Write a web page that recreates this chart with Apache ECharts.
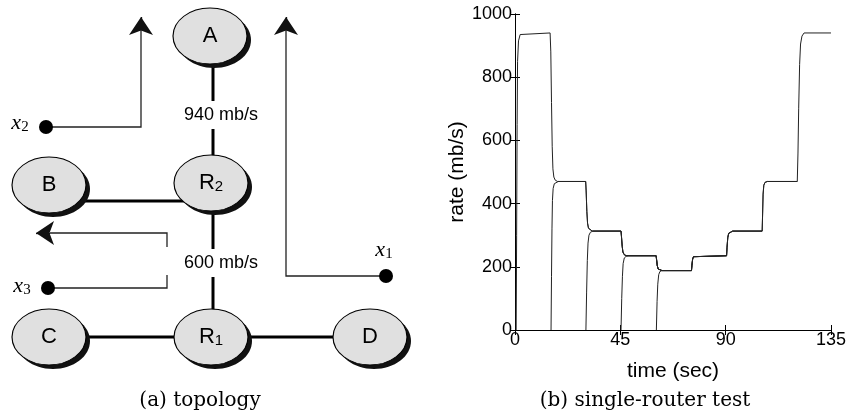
<!DOCTYPE html>
<html><head><meta charset="utf-8">
<script src="https://cdn.jsdelivr.net/npm/echarts@6/dist/echarts.min.js"></script>
<style>html,body{margin:0;padding:0;background:#fff}#c{width:849px;height:417px}</style>
</head><body><div id="c"></div>
<script>
// ================= (b) single-router test : data =================
const xTicks = [0, 45, 90, 135];          // time (sec)
const yTicks = [0, 200, 400, 600, 800, 1000]; // rate (mb/s)
// transitions: [time, rate]
const rise0   = [[0.5,0],[0.7,300],[0.9,650],[1.1,850],[1.5,915],[2.2,935],[3,940]];
const drop15  = [[15.0,940],[15.3,880],[15.6,720],[15.9,580],[16.2,510],[16.6,484],[17.2,474],[18.2,470]];
const rise15  = [[15.4,0],[15.6,170],[15.8,320],[16.0,410],[16.3,448],[16.8,463],[17.6,469],[18.5,470]];
const drop30  = [[30.2,470],[30.4,440],[30.7,375],[31.0,338],[31.4,322],[32.0,316],[33.0,313]];
const rise30  = [[30.3,0],[30.6,120],[30.9,220],[31.2,275],[31.6,300],[32.2,309],[33.2,313]];
const drop45  = [[45.3,313],[45.5,295],[45.8,265],[46.1,247],[46.6,239],[47.5,235]];
const rise45  = [[45.3,0],[45.6,100],[45.9,170],[46.2,210],[46.7,228],[47.6,234],[48.5,235]];
const drop60  = [[60.3,235],[60.5,222],[60.8,203],[61.2,193],[61.8,189],[62.8,188]];
const rise60  = [[60.4,0],[60.7,90],[61.0,145],[61.4,175],[61.9,185],[62.8,188]];
const up75    = [[75.4,188],[75.6,205],[75.9,225],[76.3,232],[77.0,235]];
const up90    = [[90.4,235],[90.6,262],[90.9,292],[91.3,306],[92.0,312],[93.0,313]];
const up105   = [[105.6,313],[105.8,370],[106.0,430],[106.3,458],[106.8,467],[107.8,470]];
const up120   = [[120.6,470],[120.9,560],[121.2,700],[121.6,840],[122.0,905],[122.6,930],[123.5,940]];
const tail135 = [[135,940]];
const end120 = [[120.6,470]], end105 = [[105.6,313]], end90 = [[90.4,235]], end75 = [[75.4,188]];

const flow1 = [].concat(rise0, drop15, drop30, drop45, drop60, up75, up90, up105, up120, tail135);
const flow2 = [].concat(rise15, drop30, drop45, drop60, up75, up90, up105, end120);
const flow3 = [].concat(rise30, drop45, drop60, up75, up90, end105);
const flow4 = [].concat(rise45, drop60, up75, end90);
const flow5 = [].concat(rise60, end75);
const flows = [flow1, flow2, flow3, flow4, flow5];

// ================= (a) topology : data =================
const nodeLabels = ['A', 'R{s|2}', 'B', 'C', 'R{s|1}', 'D'];
const nodeX = [210, 211, 49, 49, 211, 370];
const nodeY = [36, 183, 185, 337, 337, 337];
const linkPaths = [
  [[213, 40], [213, 183]],
  [[49, 201], [211, 201]],
  [[213, 183], [213, 337]],
  [[49, 337], [370, 337]]
];
const capText = ['940 mb/s', '600 mb/s'];
const capX = [221, 221];
const capY = [115, 263];
const flowPaths = [
  [[386, 276], [286, 276], [286, 30]],
  [[46, 127], [141, 127], [141, 30]],
  [[48, 288], [167, 288], [167, 275]],
  [[167, 247], [167, 233], [50, 233]]
];
const arrowSegs = [
  [[286, 30], [286, 17]],
  [[141, 30], [141, 17]],
  [[50, 233], [36, 233]]
];
const dotX = [386, 46, 48];
const dotY = [276, 127, 288];
const varLabels = ['{v|x}{s|1}', '{v|x}{s|2}', '{v|x}{s|3}'];
const varX = [384, 20, 22];
const varY = [254, 127, 290];
const captions = ['(a) topology', '(b) single-router test'];

// ================= chart =================
const ellipse = 'path://M50,0 C77.6,0 100,22.4 100,50 C100,77.6 77.6,100 50,100 C22.4,100 0,77.6 0,50 C0,22.4 22.4,0 50,0 Z';
const sans = '"Liberation Sans", Arial, sans-serif';
const serif = '"DejaVu Serif", serif';
const chart = echarts.init(document.getElementById('c'), null, {renderer: 'canvas'});

const axisCommon = {
  axisLine: {show: true, lineStyle: {color: '#000', width: 1}},
  axisTick: {show: true, inside: true, length: 5, lineStyle: {color: '#000'}},
  splitLine: {show: false}
};

const nodeData = nodeX.map((x, i) => ({value: [x, nodeY[i]], label: {formatter: nodeLabels[i]}}));

const series = [];
flows.forEach(f => series.push({
  type: 'line', xAxisIndex: 0, yAxisIndex: 0, data: f, showSymbol: false, symbol: 'none',
  lineStyle: {color: '#222', width: 1}, animation: false, z: 2
}));
series.push({
  type: 'lines', coordinateSystem: 'cartesian2d', xAxisIndex: 2, yAxisIndex: 2, polyline: true,
  lineStyle: {color: '#000', width: 3, opacity: 1}, data: linkPaths.map(c => ({coords: c})), z: 1, animation: false
});
series.push({
  type: 'lines', coordinateSystem: 'cartesian2d', xAxisIndex: 2, yAxisIndex: 2, polyline: true,
  lineStyle: {color: '#222', width: 1.3, opacity: 1}, data: flowPaths.map(c => ({coords: c})), z: 1, animation: false
});
series.push({
  type: 'lines', coordinateSystem: 'cartesian2d', xAxisIndex: 2, yAxisIndex: 2,
  symbol: ['none', 'arrow'], symbolSize: [11, 18],
  lineStyle: {color: '#111', width: 1.3, opacity: 1}, data: arrowSegs.map(c => ({coords: c})), z: 1, animation: false
});
series.push({
  type: 'scatter', xAxisIndex: 2, yAxisIndex: 2, symbol: ellipse, symbolSize: [74, 56], symbolOffset: [4, 4],
  itemStyle: {color: '#111', opacity: 1}, data: nodeX.map((x, i) => [x, nodeY[i]]), z: 3, animation: false, silent: true
});
series.push({
  type: 'scatter', xAxisIndex: 2, yAxisIndex: 2, symbol: ellipse, symbolSize: [74, 56],
  itemStyle: {color: '#e0e0e0', borderColor: '#000', borderWidth: 1, opacity: 1},
  label: {show: true, position: 'inside', color: '#000', fontFamily: sans, fontSize: 22,
    rich: {s: {fontFamily: sans, fontSize: 15, color: '#000', verticalAlign: 'bottom'}}},
  data: nodeData, z: 4, animation: false, silent: true
});
series.push({
  type: 'scatter', xAxisIndex: 2, yAxisIndex: 2, symbolSize: 14, itemStyle: {color: '#000', opacity: 1},
  data: dotX.map((x, i) => [x, dotY[i]]), z: 4, animation: false, silent: true
});
series.push({
  type: 'scatter', xAxisIndex: 2, yAxisIndex: 2, symbolSize: 1, itemStyle: {color: 'rgba(0,0,0,0)', opacity: 1},
  label: {show: true, position: 'inside', color: '#000', fontFamily: sans, fontSize: 18, lineHeight: 18,
    backgroundColor: '#fff', padding: [5, 2]},
  data: capX.map((x, i) => ({value: [x, capY[i]], label: {formatter: capText[i]}})), z: 5, animation: false, silent: true
});
series.push({
  type: 'scatter', xAxisIndex: 2, yAxisIndex: 2, symbolSize: 1, itemStyle: {color: 'rgba(0,0,0,0)', opacity: 1},
  label: {show: true, position: 'inside', color: '#000',
    rich: {
      v: {fontFamily: '"Liberation Serif", serif', fontStyle: 'italic', fontSize: 22, lineHeight: 20, verticalAlign: 'top', color: '#000'},
      s: {fontFamily: '"Liberation Serif", serif', fontSize: 15, lineHeight: 30, verticalAlign: 'middle', color: '#000'}
    }},
  data: varX.map((x, i) => ({value: [x, varY[i]], label: {formatter: varLabels[i]}})), z: 5, animation: false, silent: true
});

chart.setOption({
  animation: false,
  backgroundColor: '#fff',
  grid: [
    {left: 515, top: 14, width: 316, height: 316},
    {left: 0, top: 0, width: 420, height: 417}
  ],
  xAxis: [
    Object.assign({gridIndex: 0, type: 'value', min: xTicks[0], max: xTicks[xTicks.length - 1], interval: xTicks[1] - xTicks[0],
      position: 'bottom',
      axisLabel: {color: '#000', fontFamily: sans, fontSize: 18, margin: 1, formatter: v => String(v)},
      name: 'time (sec)', nameLocation: 'middle', nameGap: 31,
      nameTextStyle: {color: '#000', fontFamily: sans, fontSize: 21}}, axisCommon),
    Object.assign({gridIndex: 0, type: 'value', min: xTicks[0], max: xTicks[xTicks.length - 1], interval: xTicks[1] - xTicks[0],
      position: 'top', axisLabel: {show: false}}, axisCommon),
    {gridIndex: 1, type: 'value', min: 0, max: 420, show: false}
  ],
  yAxis: [
    Object.assign({gridIndex: 0, type: 'value', min: yTicks[0], max: yTicks[yTicks.length - 1], interval: yTicks[1] - yTicks[0],
      position: 'left',
      axisLabel: {color: '#000', fontFamily: sans, fontSize: 18, margin: 3, formatter: v => String(v)},
      name: 'rate (mb/s)', nameLocation: 'middle', nameGap: 44, nameRotate: 90,
      nameTextStyle: {color: '#000', fontFamily: sans, fontSize: 21}}, axisCommon),
    Object.assign({gridIndex: 0, type: 'value', min: yTicks[0], max: yTicks[yTicks.length - 1], interval: yTicks[1] - yTicks[0],
      position: 'right', axisLabel: {show: false}}, axisCommon),
    {gridIndex: 1, type: 'value', min: 0, max: 417, inverse: true, show: false}
  ],
  graphic: [
    {type: 'text', x: 200, y: 401, style: {text: captions[0], font: '20px ' + serif, fill: '#000',
      textAlign: 'center', textVerticalAlign: 'middle', align: 'center', verticalAlign: 'middle'}},
    {type: 'text', x: 645, y: 401, style: {text: captions[1], font: '20px ' + serif, fill: '#000',
      textAlign: 'center', textVerticalAlign: 'middle', align: 'center', verticalAlign: 'middle'}}
  ],
  series: series
});
</script>
</body></html>
